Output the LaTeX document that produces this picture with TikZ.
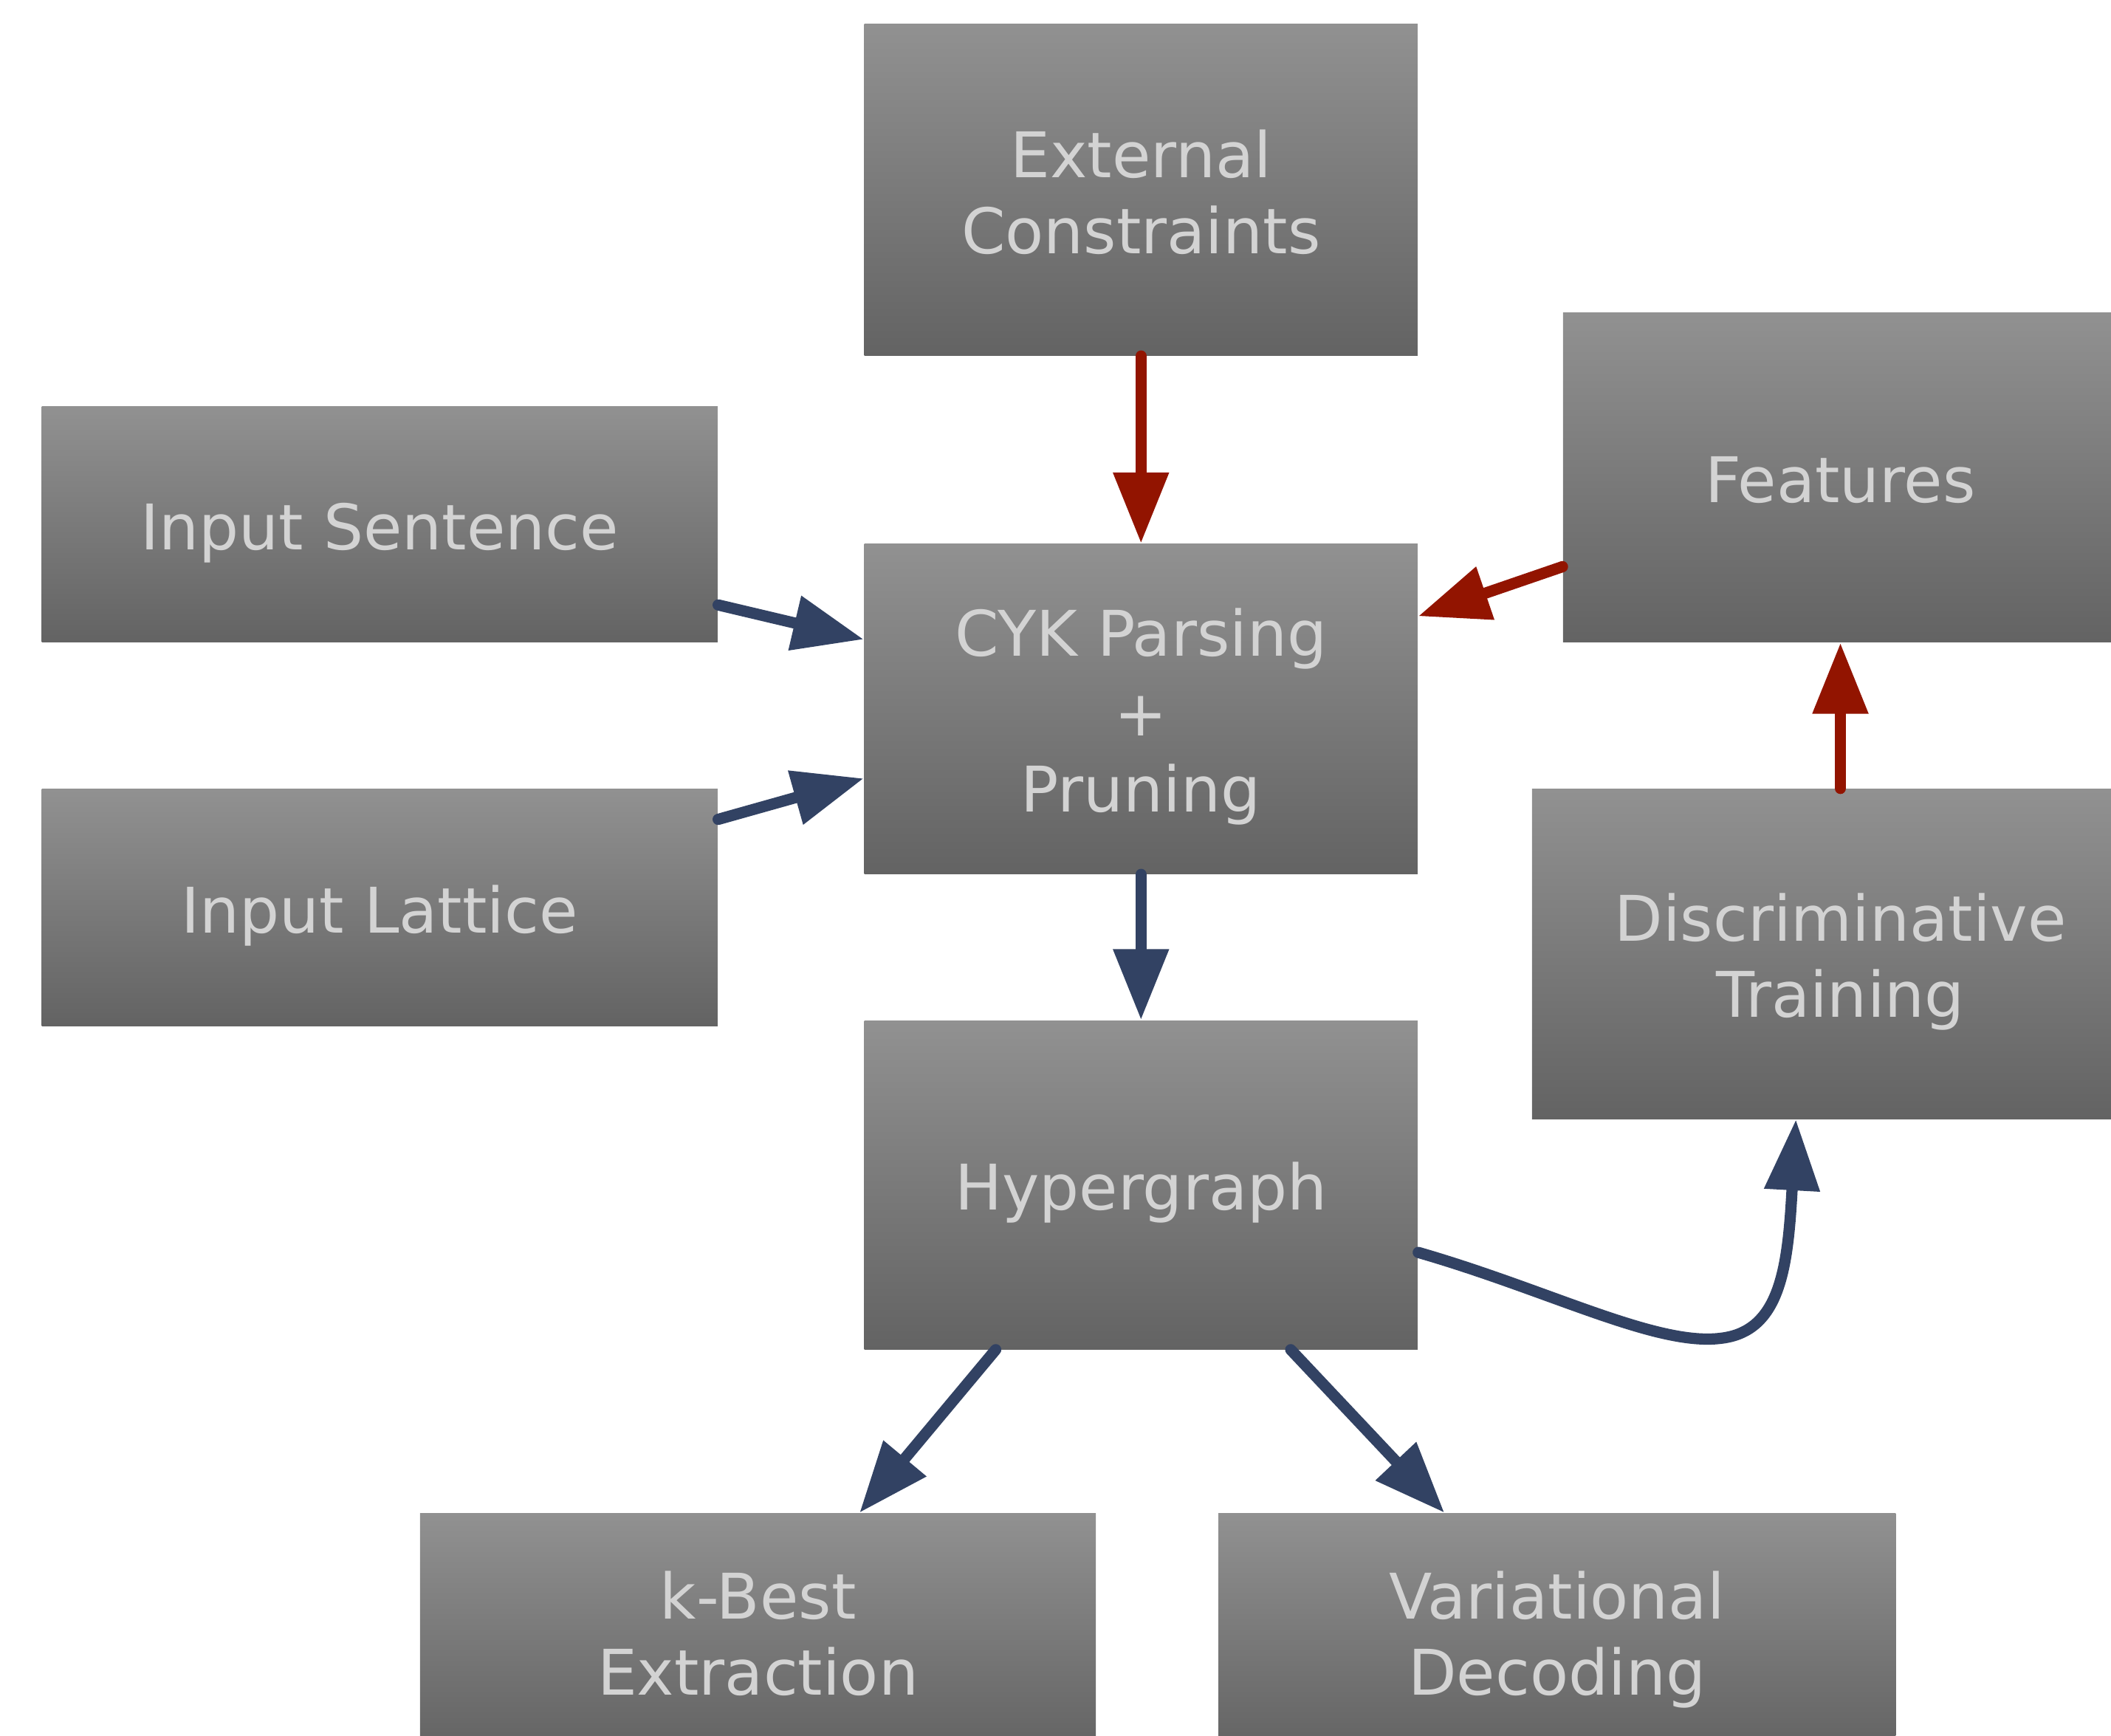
\documentclass[tikz,border=0pt]{standalone}
\usepackage{fontspec}
\setmainfont{DejaVu Sans}
\usetikzlibrary{arrows.meta,calc}
\definecolor{boxtop}{HTML}{919191}
\definecolor{boxbot}{HTML}{636363}
\definecolor{boxtxt}{HTML}{D3D3D3}
\definecolor{navyc}{HTML}{324263}
\definecolor{redc}{HTML}{921400}
\newcommand\lnstrut{\vrule width 0pt height 21.5pt depth 4.25pt}
\begin{document}
\begin{tikzpicture}[x=0.4558pt,y=-0.4558pt,
  bx/.style 2 args={rectangle, inner sep=0pt, minimum width={#1*0.4558pt}, minimum height={#2*0.4558pt},
    top color=boxtop, bottom color=boxbot, draw=none, text=boxtxt, align=center,
    font=\fontsize{21.3}{25.75}\selectfont},
  navyarrow/.style={draw=navyc, line width=3.8pt, line cap=round, -{Triangle[length=24pt,width=18pt]}},
  redarrow/.style={draw=redc, line width=3.8pt, line cap=round, -{Triangle[length=24pt,width=18pt]}}]
\useasboundingbox (0,0) rectangle (1568,1289);
\clip (0,0) rectangle (1568,1289);
\fill[white] (0,0) rectangle (1568,1289);

\node[bx={411}{246}] (ext) at (847.5,141) {\lnstrut External\\\lnstrut Constraints};
\node[bx={502}{175}] (sent) at (282,389.5) {\lnstrut Input Sentence};
\node[bx={411}{245}] (cyk) at (847.5,526.5) {\lnstrut CYK Parsing\\\lnstrut +\\\lnstrut Pruning};
\node[bx={412}{245}] (feat) at (1367,354.5) {\lnstrut Features};
\node[bx={502}{176}] (lat) at (282,674) {\lnstrut Input Lattice};
\node[bx={458}{245}] (disc) at (1367,708.5) {\lnstrut Discriminative\\\lnstrut Training};
\node[bx={411}{244}] (hyp) at (847.5,880) {\lnstrut Hypergraph};
\node[bx={502}{176}] (kb) at (563,1212) {\lnstrut k-Best\\\lnstrut Extraction};
\node[bx={503}{176}] (var) at (1156.5,1212) {\lnstrut Variational\\\lnstrut Decoding};

\draw[redarrow] (ext.south) -- (cyk.north);
\draw[navyarrow] ($(sent.north east)!0.84!(sent.south east)$) -- ($(cyk.north west)!0.29!(cyk.south west)$);
\draw[navyarrow] ($(lat.north east)!0.13!(lat.south east)$) -- ($(cyk.north west)!0.71!(cyk.south west)$);
\draw[redarrow] ($(feat.north west)!0.77!(feat.south west)$) -- ($(cyk.north east)!0.22!(cyk.south east)$);
\draw[redarrow] (disc.north) -- (feat.south);
\draw[navyarrow] (cyk.south) -- (hyp.north);
\draw[navyarrow] ($(hyp.south west)!0.238!(hyp.south east)$) -- ($(kb.north west)!0.65!(kb.north east)$);
\draw[navyarrow] ($(hyp.south west)!0.77!(hyp.south east)$) -- ($(var.north west)!0.334!(var.north east)$);
\coordinate (hs) at ($(hyp.north east)!0.705!(hyp.south east)$);
\coordinate (dt) at ($(disc.south west)!0.428!(disc.south east)$);
\coordinate (bend) at (1278,994);
\draw[navyarrow] (hs) .. controls (1150,958) and (1230,1000) .. (bend) .. controls (1323,989) and (1328,940) .. (dt);
\end{tikzpicture}
\end{document}
